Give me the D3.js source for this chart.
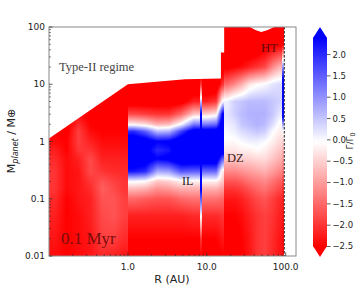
<!DOCTYPE html>
<html>
<head>
<meta charset="utf-8">
<script src="https://cdn.jsdelivr.net/npm/d3@7"></script>
<style>
  body { margin: 0; background: #fff; }
  svg { display: block; }
</style>
</head>
<body>
<svg id="chart" width="357" height="287"></svg>
<script>
// planet masses (Earth masses) at which each radial column is sampled, bottom to top
var massNodes = [0.01, 0.02, 0.05, 0.1, 0.15, 0.2, 0.3, 0.5, 0.7, 1, 1.5, 2, 3, 5, 10, 20, 50, 100];

// inner disc, R 0.1 - 1 AU
var innerEdges = [0.1, 0.14, 0.2, 0.28, 0.4, 0.56, 0.8, 1.0];
var innerGamma = [
  [-2.4, -2.3, -2.2, -2.1, -2.0, -2.0, -2.0, -2.1, -2.2, -2.4, -2.5, -2.6, -2.6, -2.6, -2.6, -2.6, -2.6, -2.6],
  [-2.5, -2.5, -2.5, -2.5, -2.4, -2.4, -2.4, -2.4, -2.5, -2.5, -2.6, -2.6, -2.6, -2.6, -2.6, -2.6, -2.6, -2.6],
  [-2.4, -2.4, -2.4, -2.3, -2.3, -2.3, -2.3, -2.2, -2.0, -1.9, -1.9, -2.1, -2.4, -2.6, -2.6, -2.6, -2.6, -2.6],
  [-2.3, -2.3, -2.2, -2.2, -2.1, -2.0, -1.8, -1.8, -2.0, -2.2, -2.4, -2.5, -2.6, -2.6, -2.6, -2.6, -2.6, -2.6],
  [-2.1, -1.9, -1.8, -1.7, -1.6, -1.7, -2.0, -2.2, -2.3, -2.4, -2.5, -2.6, -2.6, -2.6, -2.6, -2.6, -2.6, -2.6],
  [-2.2, -1.9, -1.7, -1.7, -1.8, -1.9, -2.1, -2.2, -2.3, -2.4, -2.5, -2.6, -2.6, -2.6, -2.6, -2.6, -2.6, -2.6],
  [-2.3, -2.1, -1.9, -1.9, -2.0, -2.0, -2.1, -2.2, -2.3, -2.4, -2.5, -2.6, -2.6, -2.6, -2.6, -2.6, -2.6, -2.6]
];

// R 1 - 8.3 AU, outward migration band
var midEdges = [1.0, 1.4, 2.0, 2.8, 4.0, 5.6, 8.3];
var midGamma = [
  [-2.6, -2.5, -2.2, -1.5, -0.7, 0.0, 2.2, 3.0, 3.0, 3.0, 2.0, -0.2, -1.8, -2.8, -3, -3, -3, -3],
  [-2.6, -2.5, -2.2, -1.6, -0.8, -0.1, 2.0, 2.8, 2.6, 2.8, 1.5, -0.4, -1.9, -2.8, -3, -3, -3, -3],
  [-2.6, -2.5, -2.2, -1.7, -1.1, -0.6, 0.8, 2.4, 2.0, 2.4, 0.6, -0.8, -2.0, -2.8, -3, -3, -3, -3],
  [-2.6, -2.5, -2.2, -1.7, -1.0, -0.5, 0.9, 2.6, 2.2, 2.5, 0.7, -0.7, -2.0, -2.8, -3, -3, -3, -3],
  [-2.6, -2.5, -2.2, -1.5, -0.8, -0.2, 1.6, 3.0, 3.0, 3.0, 1.8, 0.0, -1.5, -2.7, -3, -3, -3, -3],
  [-2.6, -2.5, -2.1, -1.4, -0.8, -0.2, 1.5, 3.0, 3.0, 3.0, 2.8, 1.2, -0.6, -2.2, -3, -3, -3, -3]
];

// ice line spike
var ilEdges = [8.3, 8.7];
var ilGamma = [
  [-2.5, -2.0, 0.0, 1.5, 2.5, 3, 3, 3, 3, 3, 3, 3, 2.5, 0.5, -2.0, -3, -3, -3]
];

// R 8.7 - 16.6 AU
var outerMidEdges = [8.7, 11.5, 15.1, 16.6];
var outerMidGamma = [
  [-2.6, -2.5, -2.1, -1.4, -0.8, -0.2, 1.4, 3.0, 3.0, 3.0, 2.8, 1.2, -0.5, -2.2, -3, -3, -3, -3],
  [-2.6, -2.5, -2.1, -1.4, -0.8, -0.2, 1.4, 3.0, 3.0, 3.0, 2.8, 1.4, -0.3, -2.0, -3, -3, -3, -3],
  [-2.5, -2.3, -2.0, -1.5, -1.0, -0.6, -0.3, 1.5, 3.0, 3.0, 3.0, 3.0, 2.5, 0.0, -2.0, -2.8, -3, -3]
];

// dead zone, R 16.6 - 90 AU
var dzEdges = [16.6, 20, 25, 31, 39, 49, 61, 76, 90];
var dzGamma = [
  [-2.6, -2.6, -2.5, -2.3, -2.0, -1.7, -1.2, -0.6, -0.3, -0.1, 0.0, 0.1, 0.2, 0.1, -1.5, -2.6, -3, -3],
  [-2.6, -2.6, -2.5, -2.3, -2.0, -1.7, -1.2, -0.6, -0.3, -0.1, 0.1, 0.2, 0.4, 0.4, -1.2, -2.5, -3, -3],
  [-2.5, -2.5, -2.4, -2.2, -1.9, -1.6, -1.1, -0.5, -0.2, 0.0, 0.3, 0.5, 0.6, 0.5, -0.8, -2.4, -3, -3],
  [-2.3, -2.3, -2.2, -2.0, -1.7, -1.4, -1.0, -0.5, -0.2, 0.1, 0.4, 0.6, 0.7, 0.6, -0.3, -2.2, -3, -3],
  [-2.0, -2.0, -2.0, -1.8, -1.5, -1.3, -0.9, -0.4, -0.1, 0.1, 0.5, 0.7, 0.7, 0.6, -0.1, -2.0, -3, -3],
  [-1.9, -1.9, -1.9, -1.7, -1.4, -1.2, -0.8, -0.4, -0.2, 0.0, 0.4, 0.6, 0.7, 0.6, 0.0, -1.8, -2.8, -3],
  [-2.1, -2.1, -2.0, -1.9, -1.6, -1.4, -1.0, -0.6, -0.4, -0.2, 0.0, 0.3, 0.5, 0.5, 0.2, -1.2, -2.7, -3],
  [-2.3, -2.3, -2.2, -2.1, -1.8, -1.6, -1.2, -0.8, -0.6, -0.4, -0.2, -0.1, 0.2, 0.4, 0.3, -0.8, -2.6, -3]
];

// heat transition strip at the outer edge
var htEdges = [90, 96];
var htGamma = [
  [-2.4, -2.4, -2.3, -2.2, -2.0, -1.8, -1.4, -1.0, -0.8, -0.5, -0.1, 0.8, 3, 3, 3, 1.0, -2.5, -3]
];

// upper edge of the computed map (type-II regime above)
var topR = [0.1, 1.0, 5.3, 15.1, 15.1, 16.6, 16.6, 35, 42, 49, 58, 72, 96];
var topM = [1.13, 10, 12.2, 12.6, 36, 36, 100, 100, 88, 82, 88, 100, 100];

var diskEdgeR = 96;
var xTicks = [1, 10, 100];
var yTicks = [0.01, 0.1, 1, 10, 100];
var cbTicks = [2.0, 1.5, 1.0, 0.5, 0.0, -0.5, -1.0, -1.5, -2.0, -2.5];
var cbMin = -2.5, cbMax = 2.4;

var zones = [
  { edges: innerEdges, gamma: innerGamma },
  { edges: midEdges, gamma: midGamma },
  { edges: ilEdges, gamma: ilGamma },
  { edges: outerMidEdges, gamma: outerMidGamma },
  { edges: dzEdges, gamma: dzGamma },
  { edges: htEdges, gamma: htGamma }
];

var svg = d3.select('#chart');
var x = d3.scaleLog().domain([0.1, 135]).range([49, 296]);
var y = d3.scaleLog().domain([0.01, 100]).range([256, 27]);
var color = d3.scaleLinear().domain([cbMin, (cbMin + cbMax) / 2, cbMax])
  .range(['#ff0000', '#ffffff', '#0000ff']).clamp(true);

// value at (R, M): piecewise linear in log R between column centres of a zone,
// and in log M between mass nodes (like a gouraud-shaded mesh)
var logM = massNodes.map(Math.log10);
function colValue(col, lm) {
  if (lm <= logM[0]) return col[0];
  for (var j = 1; j < logM.length; j++) {
    if (lm <= logM[j]) {
      var t = (lm - logM[j - 1]) / (logM[j] - logM[j - 1]);
      return col[j - 1] + t * (col[j] - col[j - 1]);
    }
  }
  return col[col.length - 1];
}
zones.forEach(function(z) {
  z.centres = z.gamma.map(function(c, i) {
    return (Math.log10(z.edges[i]) + Math.log10(z.edges[i + 1])) / 2;
  });
});
function gammaAt(R, M) {
  var lr = Math.log10(R), lm = Math.log10(M);
  for (var k = 0; k < zones.length; k++) {
    var z = zones[k];
    if (R >= z.edges[0] && R < z.edges[z.edges.length - 1]) {
      var c = z.centres, n = c.length;
      if (n === 1 || lr <= c[0]) return colValue(z.gamma[0], lm);
      if (lr >= c[n - 1]) return colValue(z.gamma[n - 1], lm);
      for (var i = 1; i < n; i++) {
        if (lr <= c[i]) {
          var t = (lr - c[i - 1]) / (c[i] - c[i - 1]);
          return (1 - t) * colValue(z.gamma[i - 1], lm) + t * colValue(z.gamma[i], lm);
        }
      }
    }
  }
  return null;
}

// raster of the map
var x0 = x.range()[0], x1 = x.range()[1], y0 = y.range()[1], y1 = y.range()[0];
var cw = x1 - x0, ch = y1 - y0;
var canvas = document.createElement('canvas');
canvas.width = cw; canvas.height = ch;
var ctx = canvas.getContext('2d');
var img = ctx.createImageData(cw, ch);
for (var py = 0; py < ch; py++) {
  var M = y.invert(y0 + py + 0.5);
  for (var px = 0; px < cw; px++) {
    var v = gammaAt(x.invert(x0 + px + 0.5), M);
    var o = (py * cw + px) * 4;
    if (v === null) { img.data[o + 3] = 0; continue; }
    var c = d3.rgb(color(v));
    img.data[o] = c.r; img.data[o + 1] = c.g; img.data[o + 2] = c.b; img.data[o + 3] = 255;
  }
}
ctx.putImageData(img, 0, 0);

var defs = svg.append('defs');
var outline = topR.map(function(r, i) { return [x(r), y(topM[i])]; });
outline.push([x(diskEdgeR), y(0.01)]);
outline.push([x(0.1), y(0.01)]);
defs.append('clipPath').attr('id', 'mapclip')
  .append('path').attr('d', d3.line()(outline) + 'Z');

svg.append('g').attr('clip-path', 'url(#mapclip)')
  .append('image')
  .attr('x', x0).attr('y', y0).attr('width', cw).attr('height', ch)
  .attr('preserveAspectRatio', 'none')
  .attr('href', canvas.toDataURL());

// outer disc edge
svg.append('line')
  .attr('x1', x(diskEdgeR)).attr('x2', x(diskEdgeR))
  .attr('y1', y(100)).attr('y2', y(0.01))
  .attr('stroke', '#222').attr('stroke-width', 1)
  .attr('stroke-dasharray', '2.5,1.5');

// frame
svg.append('rect')
  .attr('x', x0).attr('y', y0).attr('width', cw).attr('height', ch)
  .attr('fill', 'none').attr('stroke', '#888').attr('stroke-width', 1);

// axes with inward ticks
function minorTicks(scale) {
  var d = scale.domain(), out = [];
  for (var e = -3; e <= 3; e++) {
    for (var k = 2; k <= 9; k++) {
      var v = k * Math.pow(10, e);
      if (v > d[0] && v < d[1]) out.push(v);
    }
  }
  return out;
}
var xAxis = svg.append('g').attr('transform', 'translate(0,' + y1 + ')');
xAxis.selectAll('line.minor').data(minorTicks(x)).enter().append('line')
  .attr('x1', x).attr('x2', x).attr('y1', 0).attr('y2', -2)
  .attr('stroke', '#333').attr('stroke-width', 0.6);
xAxis.selectAll('line.major').data(xTicks).enter().append('line')
  .attr('x1', x).attr('x2', x).attr('y1', 0).attr('y2', -3.5)
  .attr('stroke', '#333').attr('stroke-width', 0.8);
xAxis.selectAll('text').data(xTicks).enter().append('text')
  .attr('x', x).attr('y', 14).attr('text-anchor', 'middle')
  .attr('font-family', 'DejaVu Sans').attr('font-size', 9).attr('fill', '#222')
  .text(function(d) { return d.toFixed(1); });

var yAxis = svg.append('g').attr('transform', 'translate(' + x0 + ',0)');
yAxis.selectAll('line.minor').data(minorTicks(y)).enter().append('line')
  .attr('y1', y).attr('y2', y).attr('x1', 0).attr('x2', 2)
  .attr('stroke', '#333').attr('stroke-width', 0.6);
yAxis.selectAll('line.major').data(yTicks).enter().append('line')
  .attr('y1', y).attr('y2', y).attr('x1', 0).attr('x2', 3.5)
  .attr('stroke', '#333').attr('stroke-width', 0.8);
yAxis.selectAll('text').data(yTicks).enter().append('text')
  .attr('x', -4).attr('y', y).attr('dy', '0.35em').attr('text-anchor', 'end')
  .attr('font-family', 'DejaVu Sans').attr('font-size', 9).attr('fill', '#222')
  .text(function(d) { return String(d); });

// axis labels
svg.append('text').attr('x', 172).attr('y', 283).attr('text-anchor', 'middle')
  .attr('font-family', 'DejaVu Sans').attr('font-size', 11).attr('fill', '#222')
  .text('R (AU)');
var yl = svg.append('text').attr('transform', 'translate(15,141) rotate(-90)')
  .attr('text-anchor', 'middle')
  .attr('font-family', 'DejaVu Sans').attr('font-size', 11).attr('fill', '#222');
yl.append('tspan').text('M');
yl.append('tspan').attr('font-size', 8).attr('font-style', 'italic').attr('dy', 2.5).text('planet');
yl.append('tspan').attr('dy', -2.5).text(' / M\u2295');

// annotations
var serif = 'Liberation Serif, DejaVu Serif, serif';
function note(t, px, py, size, fill) {
  svg.append('text').attr('x', px).attr('y', py)
    .attr('font-family', serif).attr('font-size', size)
    .attr('fill', fill).text(t);
}
note('Type-II regime', 59, 71, 12.5, '#444');
note('0.1 Myr', 61, 244, 17, '#7a0c0c');
note('IL', 182, 185, 12, '#222');
note('DZ', 227, 162, 12.5, '#3a1c1c');
note('HT', 261, 52, 12.5, '#5a0d0d');

// colourbar
var cbX = 313, cbW = 14, ext = 10.5;
var cb = d3.scaleLinear().domain([cbMin, cbMax]).range([246.5, 37.5]);
var cbg = defs.append('linearGradient').attr('id', 'cbgrad')
  .attr('x1', 0).attr('x2', 0).attr('y1', 1).attr('y2', 0);
d3.range(0, 1.0001, 0.05).forEach(function(t) {
  cbg.append('stop').attr('offset', t)
    .attr('stop-color', color(cbMin + t * (cbMax - cbMin)));
});
svg.append('rect').attr('x', cbX).attr('y', cb(cbMax))
  .attr('width', cbW).attr('height', cb(cbMin) - cb(cbMax))
  .attr('fill', 'url(#cbgrad)');
svg.append('path')
  .attr('d', d3.line()([[cbX, cb(cbMax) + 0.5], [cbX + cbW, cb(cbMax) + 0.5], [cbX + cbW / 2, cb(cbMax) - ext]]) + 'Z')
  .attr('fill', color(cbMax));
svg.append('path')
  .attr('d', d3.line()([[cbX, cb(cbMin) - 0.5], [cbX + cbW, cb(cbMin) - 0.5], [cbX + cbW / 2, cb(cbMin) + ext]]) + 'Z')
  .attr('fill', color(cbMin));
var cbAxis = svg.append('g');
cbAxis.selectAll('line').data(cbTicks).enter().append('line')
  .attr('x1', cbX + cbW).attr('x2', cbX + cbW + 3.5)
  .attr('y1', cb).attr('y2', cb)
  .attr('stroke', '#333').attr('stroke-width', 0.8);
cbAxis.selectAll('text').data(cbTicks).enter().append('text')
  .attr('x', cbX + cbW + 5.5).attr('y', cb).attr('dy', '0.35em')
  .attr('font-family', 'DejaVu Sans').attr('font-size', 8.5).attr('fill', '#222')
  .text(function(d) { return d.toFixed(1).replace('-', '\u2212'); });
var cbl = svg.append('text').attr('transform', 'translate(353,141) rotate(-90)')
  .attr('text-anchor', 'middle')
  .attr('font-family', 'DejaVu Sans').attr('font-size', 9).attr('fill', '#222');
cbl.append('tspan').text('\u0393/\u0393');
cbl.append('tspan').attr('font-size', 6.5).attr('dy', 2).text('0');
</script>
</body>
</html>
